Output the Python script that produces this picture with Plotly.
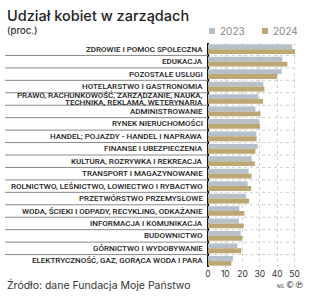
import plotly.graph_objects as go

categories = [
    "ZDROWIE I POMOC SPOŁECZNA",
    "EDUKACJA",
    "POZOSTAŁE USŁUGI",
    "HOTELARSTWO I GASTRONOMIA",
    "PRAWO, RACHUNKOWOŚĆ, ZARZĄDZANIE, NAUKA,\nTECHNIKA, REKLAMA, WETERYNARIA",
    "ADMINISTROWANIE",
    "RYNEK NIERUCHOMOŚCI",
    "HANDEL; POJAZDY - HANDEL I NAPRAWA",
    "FINANSE I UBEZPIECZENIA",
    "KULTURA, ROZRYWKA I REKREACJA",
    "TRANSPORT I MAGAZYNOWANIE",
    "ROLNICTWO, LEŚNICTWO, ŁOWIECTWO I RYBACTWO",
    "PRZETWÓRSTWO PRZEMYSŁOWE",
    "WODA, ŚCIEKI I ODPADY, RECYKLING, ODKAŻANIE",
    "INFORMACJA I KOMUNIKACJA",
    "BUDOWNICTWO",
    "GÓRNICTWO I WYDOBYWANIE",
    "ELEKTRYCZNOŚĆ, GAZ, GORĄCA WODA I PARA",
]
values_2023 = [48.7, 43.0, 42.6, 32.0, 29.1, 27.4, 29.5, 27.9, 28.7, 25.2, 23.5, 22.9, 22.0, 18.1, 17.9, 18.9, 17.0, 14.5]
values_2024 = [50.3, 45.9, 39.9, 32.6, 31.8, 30.3, 30.0, 28.1, 27.4, 27.0, 25.2, 24.9, 23.7, 21.0, 20.6, 19.9, 19.3, 13.5]
series_names = ["2023", "2024"]
x_ticks = [0, 10, 20, 30, 40, 50]

C23 = "#b7c0c8"
C24 = "#bca873"

W, H = 320, 302
ML, MR, MT, MB = 208, 22, 43, 35
PW = W - ML - MR
PH = H - MT - MB

def px_x(p):
    return (p - ML) / PW

def px_y(p):
    return 1 - (p - MT) / PH

ycat = list(range(len(categories)))

fig = go.Figure()
fig.add_trace(go.Bar(y=ycat, x=values_2023, orientation="h", name=series_names[0],
                     marker=dict(color=C23, line=dict(width=0))))
fig.add_trace(go.Bar(y=ycat, x=values_2024, orientation="h", name=series_names[1],
                     marker=dict(color=C24, line=dict(width=0))))

shapes = []
annotations = []
n = len(categories)
for i in range(n - 1):
    b = i + 0.5
    shapes.append(dict(type="line", xref="paper", yref="y", x0=px_x(5), x1=0, y0=b, y1=b,
                       line=dict(color="#8a8a8a", width=1), layer="above"))
    shapes.append(dict(type="line", xref="paper", yref="y", x0=0, x1=1, y0=b, y1=b,
                       line=dict(color="#cfcfcf", width=1, dash="dot"), layer="below"))

for i, c in enumerate(categories):
    lines = c.split("\n")
    if len(lines) == 1:
        annotations.append(dict(x=px_x(205), y=i, xref="paper", yref="y", text=c, showarrow=False,
                                xanchor="right", yanchor="middle",
                                font=dict(family="Roboto", size=8, color="#222", weight=500)))
    else:
        for k, ln in enumerate(lines):
            annotations.append(dict(x=px_x(205), y=i, xref="paper", yref="y", text=ln, showarrow=False,
                                    xanchor="right", yanchor="middle", yshift=3.4 - 6.8 * k,
                                    font=dict(family="Roboto", size=8, color="#222", weight=500)))

# title, subtitle, source
annotations.append(dict(x=px_x(5), y=px_y(15), xref="paper", yref="paper", text="Udział kobiet w zarządach",
                        showarrow=False, xanchor="left", yanchor="middle",
                        font=dict(family="Inter", size=14.5, color="#222", weight=500)))
annotations.append(dict(x=px_x(5), y=px_y(31), xref="paper", yref="paper", text="(proc.)",
                        showarrow=False, xanchor="left", yanchor="middle",
                        font=dict(family="Inter", size=9.5, color="#333", weight=500)))
annotations.append(dict(x=px_x(5), y=px_y(285), xref="paper", yref="paper",
                        text="Źródło: dane Fundacja Moje Państwo",
                        showarrow=False, xanchor="left", yanchor="middle",
                        font=dict(family="Inter", size=10.5, color="#333")))
annotations.append(dict(x=px_x(306), y=px_y(285), xref="paper", yref="paper",
                        text="<span style='font-size:5px'>NS </span>©℗",
                        showarrow=False, xanchor="right", yanchor="middle",
                        font=dict(family="DejaVu Sans", size=9, color="#333")))

# legend
for xs, col, name in [(209, C23, series_names[0]), (262, C24, series_names[1])]:
    shapes.append(dict(type="rect", xref="paper", yref="paper", x0=px_x(xs), x1=px_x(xs + 6),
                       y0=px_y(34), y1=px_y(28), fillcolor=col, line=dict(width=0)))
    annotations.append(dict(x=px_x(xs + 8.5), y=px_y(31), xref="paper", yref="paper", text=name,
                            showarrow=False, xanchor="left", yanchor="middle",
                            font=dict(family="Inter", size=10, color="#888")))

fig.update_layout(
    width=W, height=H, margin=dict(l=ML, r=MR, t=MT, b=MB),
    paper_bgcolor="white", plot_bgcolor="white",
    barmode="group", bargap=0.22, bargroupgap=0,
    showlegend=False,
    shapes=shapes, annotations=annotations,
    xaxis=dict(range=[0, 52], tickvals=x_ticks, showgrid=True, gridcolor="#cfcfcf", griddash="dot",
               gridwidth=1, zeroline=True, zerolinecolor="#111", zerolinewidth=2,
               tickfont=dict(family="Inter", size=8.5, color="#333"), ticks="", fixedrange=True),
    yaxis=dict(range=[n - 0.5, -0.5], showticklabels=False, showgrid=False, zeroline=False, ticks=""),
)

fig.write_html("out.html")
